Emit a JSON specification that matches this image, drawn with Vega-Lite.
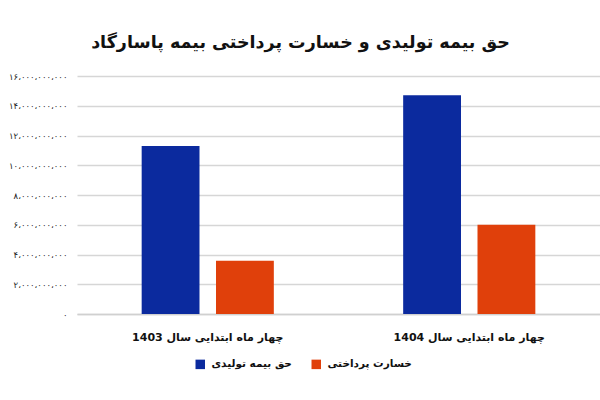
{
  "$schema": "https://vega.github.io/schema/vega-lite/v6.json",
  "autosize": {"type": "none"},
  "width": 523,
  "height": 238,
  "padding": {"left": 77, "top": 76, "right": 0, "bottom": 86},
  "background": "white",
  "title": {
    "text": "حق بیمه تولیدی و خسارت پرداختی بیمه پاسارگاد",
    "font": "DejaVu Sans",
    "fontSize": 17.5,
    "fontWeight": "bold",
    "color": "#111111",
    "anchor": "middle",
    "dx": -38,
    "offset": 21
  },
  "data": {
    "values": [
      {"period": "چهار ماه ابتدایی سال 1403", "series": "حق بیمه تولیدی", "value": 11300000000},
      {"period": "چهار ماه ابتدایی سال 1403", "series": "خسارت پرداختی", "value": 3580000000},
      {"period": "چهار ماه ابتدایی سال 1404", "series": "حق بیمه تولیدی", "value": 14700000000},
      {"period": "چهار ماه ابتدایی سال 1404", "series": "خسارت پرداختی", "value": 6000000000}
    ]
  },
  "mark": {"type": "bar"},
  "encoding": {
    "x": {
      "field": "period",
      "type": "nominal",
      "sort": null,
      "scale": {"paddingInner": 0, "paddingOuter": 0},
      "axis": {
        "title": null,
        "labelAngle": 0,
        "labelFont": "DejaVu Sans",
        "labelFontSize": 11,
        "labelFontWeight": "bold",
        "labelColor": "#111111",
        "labelPadding": 17,
        "ticks": false,
        "domainColor": "#d0d0d0",
        "domainWidth": 1.5,
        "labelLimit": 300
      }
    },
    "xOffset": {
      "field": "series",
      "type": "nominal",
      "sort": ["حق بیمه تولیدی", "خسارت پرداختی"],
      "scale": {"paddingInner": 0.222, "paddingOuter": 0.87}
    },
    "y": {
      "field": "value",
      "type": "quantitative",
      "scale": {"domain": [0, 16000000000], "nice": false},
      "axis": {
        "title": null,
        "values": [0, 2000000000, 4000000000, 6000000000, 8000000000, 10000000000, 12000000000, 14000000000, 16000000000],
        "ticks": false,
        "domain": false,
        "gridColor": "#d6d6d6",
        "gridWidth": 1.5,
        "labelPadding": 10,
        "labelFont": "DejaVu Sans",
        "labelFontSize": 8.5,
        "labelColor": "#222222",
        "labelExpr": "replace(replace(replace(replace(replace(replace(replace(replace(replace(replace(replace(format(datum.value, ','), regexp('0','g'), '۰'), regexp('1','g'), '۱'), regexp('2','g'), '۲'), regexp('3','g'), '۳'), regexp('4','g'), '۴'), regexp('5','g'), '۵'), regexp('6','g'), '۶'), regexp('7','g'), '۷'), regexp('8','g'), '۸'), regexp('9','g'), '۹'), regexp(',','g'), '،')"
      }
    },
    "color": {
      "field": "series",
      "type": "nominal",
      "sort": ["حق بیمه تولیدی", "خسارت پرداختی"],
      "scale": {"domain": ["حق بیمه تولیدی", "خسارت پرداختی"], "range": ["#0b2a9e", "#e0400b"]},
      "legend": {
        "title": null,
        "orient": "none",
        "direction": "horizontal",
        "legendX": 118,
        "legendY": 283,
        "symbolType": "square",
        "symbolSize": 90,
        "symbolStrokeWidth": 0,
        "labelFont": "DejaVu Sans",
        "labelFontSize": 10.5,
        "labelFontWeight": "bold",
        "labelColor": "#111111",
        "columnPadding": 19,
        "labelOffset": 6
      }
    }
  },
  "config": {"view": {"stroke": null}}
}
